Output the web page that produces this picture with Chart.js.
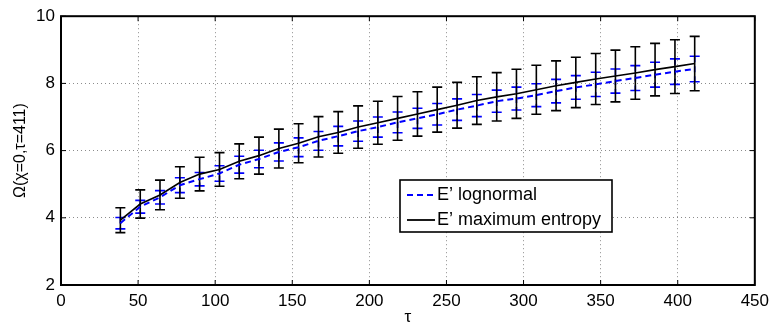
<!DOCTYPE html>
<html>
<head>
<meta charset="utf-8">
<script src="https://cdn.jsdelivr.net/npm/chart.js@4.4.0/dist/chart.umd.min.js"></script>
<style>
    html, body { margin: 0; padding: 0; background: #fff; }
    #wrap { width: 775px; height: 331px; }
</style>
</head>
<body>
<div id="wrap"><canvas id="graph1" width="775" height="331"></canvas></div>
<script>
// tau values where the curves were sampled
const tau = [38.5, 51.4, 64.2, 77.1, 89.9, 102.8, 115.6, 128.4, 141.3, 154.1,
             167.0, 179.8, 192.7, 205.5, 218.3, 231.2, 244.0, 256.9, 269.7, 282.6,
             295.4, 308.3, 321.1, 333.9, 346.8, 359.6, 372.5, 385.3, 398.2, 411.0];

// E' maximum entropy (black, solid) - mean and error half-width
const entMean = [3.93, 4.41, 4.68, 5.05, 5.30, 5.44, 5.68, 5.85, 6.06, 6.22,
                 6.41, 6.54, 6.70, 6.83, 6.96, 7.09, 7.22, 7.35, 7.49, 7.60,
                 7.69, 7.81, 7.93, 8.03, 8.13, 8.22, 8.31, 8.41, 8.50, 8.59];
const entErr  = [0.37, 0.42, 0.44, 0.47, 0.50, 0.50, 0.52, 0.55, 0.58, 0.58,
                 0.60, 0.62, 0.63, 0.64, 0.65, 0.66, 0.67, 0.68, 0.71, 0.72,
                 0.73, 0.73, 0.74, 0.75, 0.76, 0.77, 0.78, 0.78, 0.80, 0.81];

// E' lognormal (blue, dashed) - mean and error half-width
const logMean = [3.84, 4.33, 4.61, 4.97, 5.15, 5.32, 5.58, 5.75, 5.96, 6.10,
                 6.29, 6.43, 6.58, 6.70, 6.84, 6.96, 7.08, 7.22, 7.34, 7.47,
                 7.55, 7.65, 7.77, 7.88, 7.97, 8.07, 8.16, 8.26, 8.35, 8.43];
const logErr  = [0.17, 0.19, 0.20, 0.22, 0.20, 0.23, 0.25, 0.26, 0.27, 0.28,
                 0.28, 0.29, 0.30, 0.30, 0.31, 0.30, 0.32, 0.32, 0.33, 0.33,
                 0.34, 0.34, 0.35, 0.35, 0.36, 0.36, 0.37, 0.37, 0.38, 0.38];

const seriesNames = ["E\u2019 lognormal", "E\u2019 maximum entropy"];

const FONT = "'Liberation Sans', Arial, Helvetica, sans-serif";
Chart.defaults.font.family = FONT;
Chart.defaults.color = '#000';

function drawBars(ctx, xs, ys, mean, err, color, dash){
    ctx.save();
    ctx.strokeStyle = color;
    ctx.lineWidth = 1.6;
    tau.forEach((t, i) => {
        const px = xs.getPixelForValue(t);
        const top = ys.getPixelForValue(mean[i] + err[i]);
        const bot = ys.getPixelForValue(mean[i] - err[i]);
        ctx.setLineDash(dash);
        ctx.beginPath();
        ctx.moveTo(px, top);
        ctx.lineTo(px, bot);
        ctx.stroke();
        ctx.setLineDash([]);
        ctx.beginPath();
        ctx.moveTo(px - 5, top); ctx.lineTo(px + 5, top);
        ctx.moveTo(px - 5, bot); ctx.lineTo(px + 5, bot);
        ctx.stroke();
    });
    ctx.restore();
}

const errorBars = {
    id: 'errorBars',
    beforeDatasetsDraw(chart){
        const {ctx, scales: {x, y}} = chart;
        drawBars(ctx, x, y, logMean, logErr, '#0000ff', [6, 4]);
        drawBars(ctx, x, y, entMean, entErr, '#000000', []);
    }
};

// matlab style box, inner ticks and legend
const matlabBox = {
    id: 'matlabBox',
    afterDraw(chart){
        const {ctx, chartArea: a, scales: {x, y}} = chart;
        ctx.save();
        ctx.strokeStyle = '#000';
        ctx.lineWidth = 2;
        ctx.strokeRect(a.left, a.top, a.right - a.left, a.bottom - a.top);
        ctx.lineWidth = 1;
        ctx.beginPath();
        x.ticks.forEach(tk => {
            const px = x.getPixelForValue(tk.value);
            ctx.moveTo(px, a.bottom); ctx.lineTo(px, a.bottom - 5);
            ctx.moveTo(px, a.top); ctx.lineTo(px, a.top + 5);
        });
        y.ticks.forEach(tk => {
            const py = y.getPixelForValue(tk.value);
            ctx.moveTo(a.left, py); ctx.lineTo(a.left + 5, py);
            ctx.moveTo(a.right, py); ctx.lineTo(a.right - 5, py);
        });
        ctx.stroke();

        // legend
        const lx = 400, ly = 180, lw = 212, lh = 52;
        ctx.fillStyle = '#fff';
        ctx.fillRect(lx, ly, lw, lh);
        ctx.lineWidth = 1.6;
        ctx.strokeRect(lx, ly, lw, lh);
        const rows = [
            {name: seriesNames[0], color: '#0000ff', dash: [6, 4]},
            {name: seriesNames[1], color: '#000000', dash: []}
        ];
        ctx.font = '18px ' + FONT;
        ctx.textBaseline = 'middle';
        rows.forEach((r, i) => {
            const yy = ly + 15 + i * 25;
            ctx.strokeStyle = r.color;
            ctx.lineWidth = 1.8;
            ctx.setLineDash(r.dash);
            ctx.beginPath();
            ctx.moveTo(lx + 7, yy);
            ctx.lineTo(lx + 35, yy);
            ctx.stroke();
            ctx.setLineDash([]);
            ctx.fillStyle = '#000';
            ctx.fillText(r.name, lx + 37, yy);
        });
        ctx.restore();
    }
};

function createChart(){
    const ctx = document.getElementById('graph1');
    new Chart(ctx, {
        type: 'line',
        data: {
            datasets: [
                {
                    label: seriesNames[1],
                    data: tau.map((t, i) => ({x: t, y: entMean[i]})),
                    borderColor: '#000000',
                    borderWidth: 1.6,
                    pointRadius: 0,
                    fill: false,
                    tension: 0
                },
                {
                    label: seriesNames[0],
                    data: tau.map((t, i) => ({x: t, y: logMean[i]})),
                    borderColor: '#0000ff',
                    borderWidth: 2,
                    borderDash: [6, 4],
                    pointRadius: 0,
                    fill: false,
                    tension: 0
                }
            ]
        },
        options: {
            responsive: false,
            animation: false,
            devicePixelRatio: 1,
            layout: {
                padding: {left: 0, right: 17, top: 11, bottom: 0}
            },
            scales: {
                x: {
                    type: 'linear',
                    min: 0,
                    max: 450,
                    afterFit: s => { s.height = 46; },
                    grid: {
                        color: 'rgba(0,0,0,0.45)',
                        lineWidth: 1,
                        drawTicks: false
                    },
                    border: {display: false, dash: [1, 3]},
                    ticks: {
                        stepSize: 50,
                        padding: 6,
                        maxRotation: 0,
                        font: {size: 17}
                    },
                    title: {
                        display: true,
                        text: '\u03c4',
                        font: {size: 17},
                        padding: {top: 0, bottom: 3}
                    }
                },
                y: {
                    min: 2,
                    max: 10,
                    afterFit: s => { s.width = 61; },
                    grid: {
                        color: 'rgba(0,0,0,0.45)',
                        lineWidth: 1,
                        drawTicks: false
                    },
                    border: {display: false, dash: [1, 3]},
                    ticks: {
                        stepSize: 2,
                        padding: 6,
                        font: {size: 17}
                    },
                    title: {
                        display: true,
                        text: '\u03a9(\u03c7=0,\u03c4=411)',
                        font: {size: 16},
                        padding: {top: 11, bottom: 0}
                    }
                }
            },
            plugins: {
                legend: {display: false},
                tooltip: {enabled: false}
            }
        },
        plugins: [errorBars, matlabBox]
    });
}

createChart();
</script>
</body>
</html>
